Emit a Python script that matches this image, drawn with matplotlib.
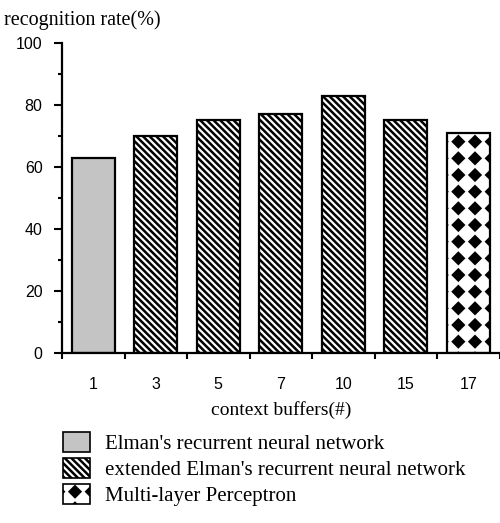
"""Recognition rate vs. number of context buffers (bar chart with hatched fills)."""

import numpy as np
import matplotlib

matplotlib.use("Agg")
import matplotlib.pyplot as plt
import matplotlib.hatch as mhatch
from matplotlib.patches import Patch
from matplotlib.path import Path

buffers = ["1", "3", "5", "7", "10", "15", "17"]
rates = [63, 70, 75, 77, 83, 75, 71]
model_of_bar = [0, 1, 1, 1, 1, 1, 2]
model_names = [
    "Elman's recurrent neural network",
    "extended Elman's recurrent neural network",
    "Multi-layer Perceptron",
]
y_ticks = [0, 20, 40, 60, 80, 100]

# (face colour, hatch) per model
_STYLE = [
    ("#c4c4c4", None),
    ("white", "\\" * 5),
    ("white", "*"),
]


class _Diamonds(mhatch.HatchPatternBase):
    """Square grid of filled diamonds, takes the place of the '*' stars."""

    def __init__(self, hatch, density):
        self.num_rows = int(hatch.count("*") * density)
        self.num_vertices = self.num_rows ** 2 * 5

    def set_vertices_and_codes(self, vertices, codes):
        n = self.num_rows
        h = 0.32 / n
        centers = (np.arange(n) + 0.5) / n
        cx, cy = np.meshgrid(centers, centers)
        shape = np.array([[0, -h], [h, 0], [0, h], [-h, 0], [0, -h]])
        pts = shape[None, :, :] + np.stack([cx.ravel(), cy.ravel()], axis=1)[:, None, :]
        vertices[:] = pts.reshape(-1, 2)
        codes[:] = np.tile([Path.MOVETO, Path.LINETO, Path.LINETO,
                            Path.LINETO, Path.CLOSEPOLY], n * n)


mhatch._hatch_types = [t for t in mhatch._hatch_types if t is not mhatch.Stars] + [_Diamonds]

plt.rcParams["hatch.linewidth"] = 1.8
SERIF = "Liberation Serif"
SANS = "Liberation Sans"

fig = plt.figure(figsize=(5, 5.23), dpi=100)
ax = fig.add_axes([0.124, 0.325, 0.875, 0.593])

x = np.arange(len(buffers))
for xi, r, m in zip(x, rates, model_of_bar):
    face, hatch = _STYLE[m]
    ax.bar(xi, r, width=0.69, color=face, edgecolor="black", linewidth=1.6,
           hatch=hatch, zorder=2)

ax.set_xlim(-0.5, len(buffers) - 0.5)
ax.set_ylim(0, 100)
for side in ("top", "right"):
    ax.spines[side].set_visible(False)
for side in ("left", "bottom"):
    ax.spines[side].set_linewidth(1.6)

ax.set_yticks(y_ticks)
ax.set_yticks(np.arange(10, 100, 20), minor=True)
ax.tick_params(axis="y", which="major", direction="out", length=6, width=1.5, pad=8)
ax.tick_params(axis="y", which="minor", direction="out", length=3, width=1.5)
for lab in ax.get_yticklabels():
    lab.set_fontfamily(SANS)
    lab.set_fontsize(11.5)

ax.set_xticks(np.arange(len(buffers) + 1) - 0.5, labels=[""] * (len(buffers) + 1))
ax.set_xticks(x, labels=buffers, minor=True)
ax.tick_params(axis="x", which="major", direction="out", length=4, width=1.5)
ax.tick_params(axis="x", which="minor", length=0, pad=17)
for lab in ax.get_xticklabels(minor=True):
    lab.set_fontfamily(SANS)
    lab.set_fontsize(11.5)

ax.set_xlabel("context buffers(#)", family=SERIF, fontsize=14, labelpad=7)
fig.text(0.008, 0.962, "recognition rate(%)", family=SERIF, fontsize=14.5, va="center")

handles = [Patch(facecolor=f, edgecolor="black", linewidth=1.2, hatch=h) for f, h in _STYLE]
fig.legend(handles, model_names, loc="upper left", bbox_to_anchor=(63 / 500, 1 - 432 / 523),
           frameon=False, borderpad=0, borderaxespad=0, handlelength=1.3, handleheight=1.1,
           handletextpad=0.7, labelspacing=0.18, prop={"family": SERIF, "size": 15})

fig.savefig("out.png", dpi=100)
